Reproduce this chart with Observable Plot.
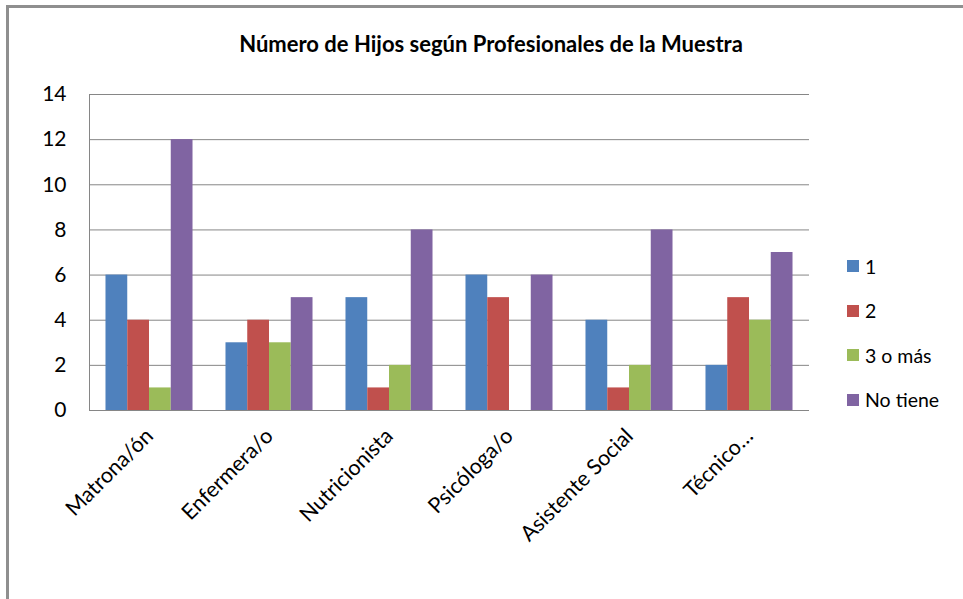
<!DOCTYPE html>
<html>
<head>
<meta charset="utf-8">
<script src="https://cdn.jsdelivr.net/npm/d3@7"></script>
<script src="https://cdn.jsdelivr.net/npm/@observablehq/plot@0.6"></script>
<style>
  html, body { margin: 0; padding: 0; background: #fff; }
  #wrap { position: relative; width: 963px; height: 599px; overflow: hidden; font-family: Lato, "Open Sans", sans-serif; color: #000; }
  #border { position: absolute; left: 6px; top: 5px; width: 1000px; height: 700px; border-top: 3px solid #8f8f8f; border-left: 3px solid #8f8f8f; box-sizing: border-box; }
  #title { position: absolute; left: 191px; width: 600px; top: 33px; line-height: 22px; text-align: center; font-size: 22px; font-weight: bold; }
  #chart { position: absolute; left: 0; top: 0; }
  #legend { position: absolute; left: 847px; top: 244px; }
  .item { height: 44.5px; display: flex; align-items: center; font-size: 19.5px; }
  .sw { width: 12px; height: 12px; margin-right: 6px; }
</style>
</head>
<body>
<div id="wrap">
  <div id="border"></div>
  <div id="chart"></div>
  <div id="title">Número de Hijos según Profesionales de la Muestra</div>
  <div id="legend"></div>
</div>
<script>
const categories = ["Matrona/ón", "Enfermera/o", "Nutricionista", "Psicóloga/o", "Asistente Social", "Técnico…"];
const seriesNames = ["1", "2", "3 o más", "No tiene"];
const colors = ["#4F81BD", "#C0504D", "#9BBB59", "#8064A2"];
const values1 = [6, 3, 5, 6, 4, 2];
const values2 = [4, 4, 1, 5, 1, 5];
const values3 = [1, 3, 2, 0, 2, 4];
const valuesNo = [12, 5, 8, 6, 8, 7];
const yTicks = [0, 2, 4, 6, 8, 10, 12, 14];

const seriesValues = [values1, values2, values3, valuesNo];
const data = [];
categories.forEach((c, i) => {
  seriesNames.forEach((s, j) => {
    data.push({cat: c, series: s, value: seriesValues[j][i]});
  });
});

const chart = Plot.plot({
  width: 963,
  height: 599,
  marginTop: 94,
  marginBottom: 189,
  marginLeft: 89,
  marginRight: 154,
  style: {fontFamily: "Lato, 'Open Sans', sans-serif", color: "#000", background: "transparent"},
  fx: {domain: categories, padding: 0, round: false, label: null},
  x: {domain: seriesNames, axis: null, paddingInner: 0, paddingOuter: 0.758, round: false},
  y: {domain: [0, 14], label: null},
  color: {domain: seriesNames, range: colors},
  marks: [
    Plot.gridY(yTicks, {stroke: "#868686", strokeOpacity: 1}),
    Plot.frame({anchor: "left", facetAnchor: "left", stroke: "#868686"}),
    Plot.barY(data, {fx: "cat", x: "series", y: "value", fill: "series"}),
    Plot.axisY({ticks: yTicks, tickSize: 0, tickPadding: 23, fontSize: 21, label: null}),
    Plot.axisFx({anchor: "bottom", tickRotate: -45, tickSize: 0, tickPadding: 22, fontSize: 21.5, label: null})
  ]
});
document.getElementById("chart").appendChild(chart);

const legend = document.getElementById("legend");
seriesNames.forEach((s, j) => {
  const item = document.createElement("div");
  item.className = "item";
  const sw = document.createElement("span");
  sw.className = "sw";
  sw.style.background = colors[j];
  const t = document.createElement("span");
  t.textContent = s;
  item.appendChild(sw);
  item.appendChild(t);
  legend.appendChild(item);
});
</script>
</body>
</html>
